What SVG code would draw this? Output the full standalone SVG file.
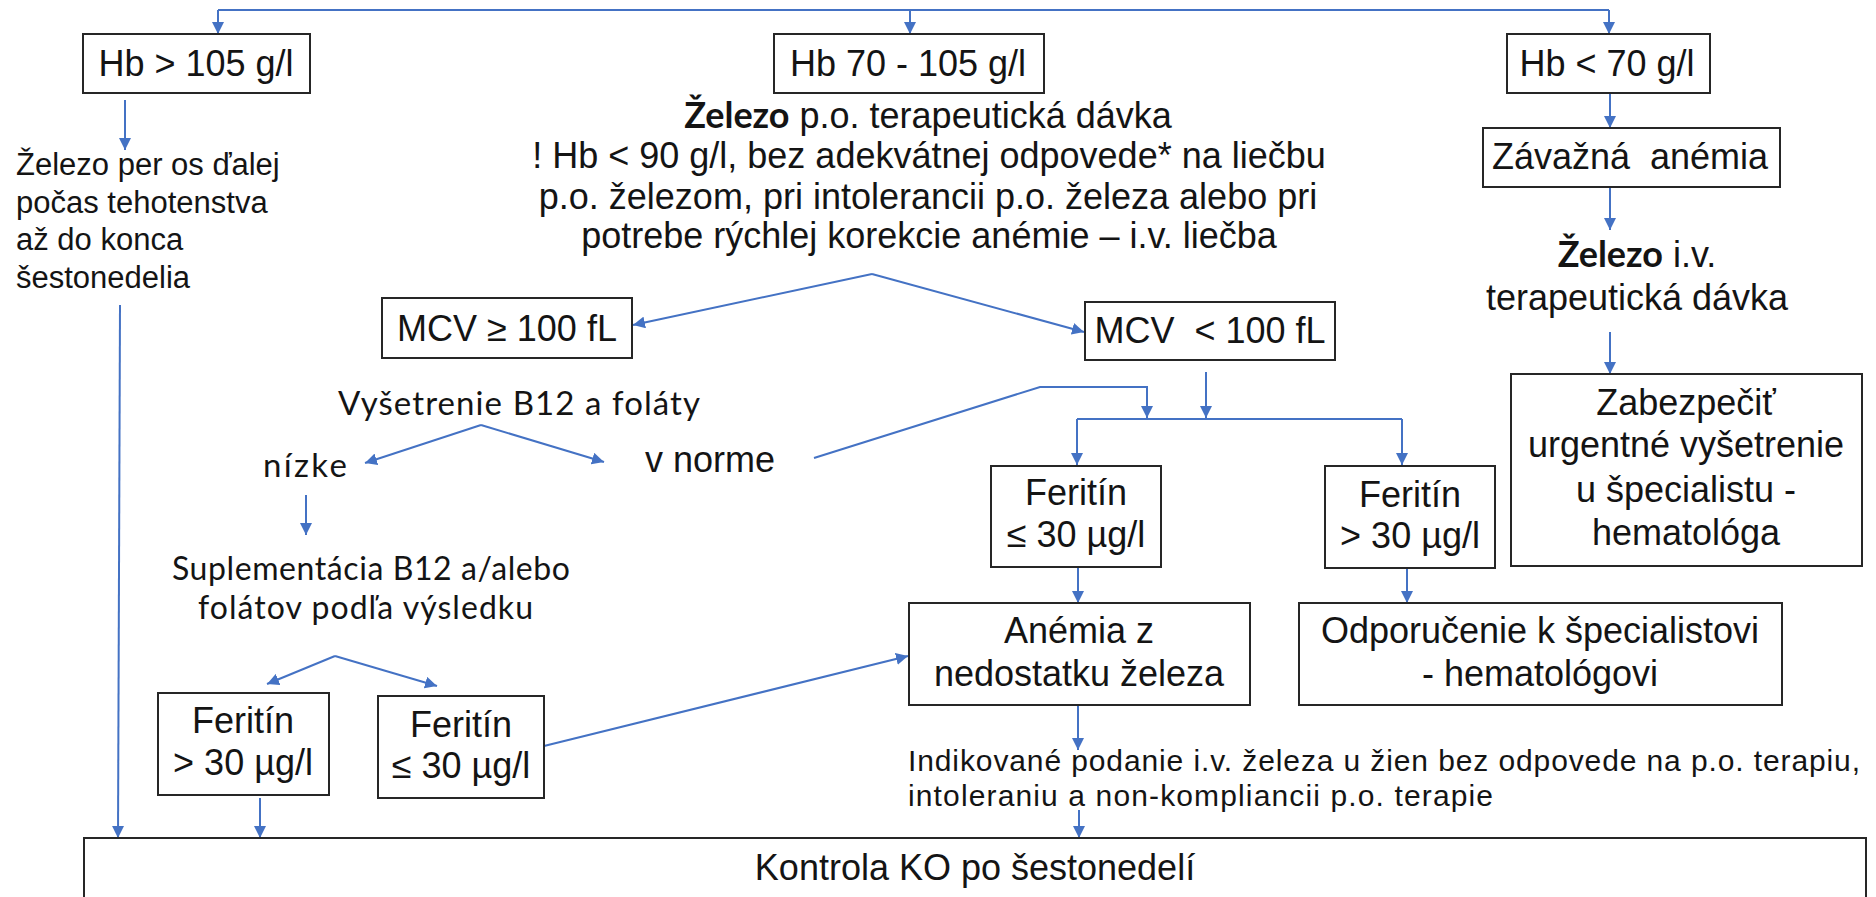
<svg xmlns="http://www.w3.org/2000/svg" width="1876" height="897" viewBox="0 0 1876 897">
<defs>
<marker id="ah" viewBox="0 0 12 12" refX="12" refY="6" markerWidth="12" markerHeight="12" markerUnits="userSpaceOnUse" orient="auto">
<path d="M0,0 L12,6 L0,12 z" fill="#4472C4"/>
</marker>
<style>
.box{fill:#fff;stroke:#262626;stroke-width:2}
.t{font-family:"Liberation Sans",Arial,sans-serif;font-size:36px;fill:#141414}
.s{font-size:31px}
.n{font-size:30px}
.m{text-anchor:middle}
.c{font-family:Lato,"Open Sans",sans-serif;font-size:33px;fill:#141414}
.c2{font-size:32px}
.b{font-family:Lato,"Liberation Sans",sans-serif;font-weight:bold}
.conn path{stroke:#4472C4;stroke-width:2;fill:none}
.conn path.a{marker-end:url(#ah)}
</style>
</defs>
<rect width="1876" height="897" fill="#fff"/>

<g id="connectors" class="conn">
<path d="M218,10 H1609"/>
<path class="a" d="M218,10 V34"/>
<path class="a" d="M910,10 V34"/>
<path class="a" d="M1609,10 V34"/>
<path class="a" d="M125,100 V150"/>
<path class="a" d="M1610,93 V128"/>
<path class="a" d="M1610,187 V230"/>
<path class="a" d="M1610,332 V374"/>
<path class="a" d="M872,274 L633,325"/>
<path class="a" d="M872,274 L1084,332"/>
<path class="a" d="M481,425 L365,463"/>
<path class="a" d="M481,425 L604,462"/>
<path class="a" d="M306,495 V535"/>
<path class="a" d="M335,656 L267,684"/>
<path class="a" d="M335,656 L437,686"/>
<path class="a" d="M544,746 L908,656"/>
<path class="a" d="M814,458 L1040,387 H1147 V418"/>
<path class="a" d="M1206,372 V418"/>
<path d="M1077,419 H1402"/>
<path class="a" d="M1077,419 V465"/>
<path class="a" d="M1402,419 V465"/>
<path class="a" d="M1078,567 V603"/>
<path class="a" d="M1407,568 V603"/>
<path class="a" d="M1078,705 V750"/>
<path class="a" d="M1079,810 V838"/>
<path class="a" d="M260,798 V838"/>
<path class="a" d="M120,305 L118,838"/>
</g>

<g id="hb-high">
<rect class="box" x="83" y="34" width="227" height="59"/>
<text class="t m" x="196" y="76">Hb &gt; 105 g/l</text>
</g>
<g id="hb-mid">
<rect class="box" x="774" y="34" width="270" height="59"/>
<text class="t m" x="908" y="76">Hb 70 - 105 g/l</text>
</g>
<g id="hb-low">
<rect class="box" x="1507" y="34" width="203" height="59"/>
<text class="t m" x="1607" y="76">Hb &lt; 70 g/l</text>
</g>

<g id="zelezo-po-left">
<text class="t s" x="16" y="175">Železo per os ďalej</text>
<text class="t s" x="16" y="213">počas tehotenstva</text>
<text class="t s" x="16" y="250">až do konca</text>
<text class="t s" x="16" y="288">šestonedelia</text>
</g>

<g id="zelezo-po-mid">
<text class="t m" x="928" y="128"><tspan class="b">Železo</tspan> p.o. terapeutická dávka</text>
<text class="t m" x="929" y="168">! Hb &lt; 90 g/l, bez adekvátnej odpovede* na liečbu</text>
<text class="t m" x="928" y="209">p.o. železom, pri intolerancii p.o. železa alebo pri</text>
<text class="t m" x="929" y="248">potrebe rýchlej korekcie anémie – i.v. liečba</text>
</g>

<g id="zavazna">
<rect class="box" x="1483" y="128" width="297" height="59"/>
<text class="t m" x="1630" y="169">Závažná&#160; anémia</text>
</g>
<g id="zelezo-iv">
<text class="t m" x="1637" y="267"><tspan class="b">Železo</tspan> i.v.</text>
<text class="t m" x="1637" y="310">terapeutická dávka</text>
</g>
<g id="zabezpecit">
<rect class="box" x="1511" y="374" width="351" height="192"/>
<text class="t m" x="1686" y="415">Zabezpečiť</text>
<text class="t m" x="1686" y="457">urgentné vyšetrenie</text>
<text class="t m" x="1686" y="502">u špecialistu -</text>
<text class="t m" x="1686" y="545">hematológa</text>
</g>

<g id="mcv-high">
<rect class="box" x="382" y="298" width="250" height="60"/>
<text class="t m" x="507" y="341">MCV ≥ 100 fL</text>
</g>
<g id="mcv-low">
<rect class="box" x="1085" y="302" width="250" height="58"/>
<text class="t m" x="1210" y="343">MCV&#160; &lt; 100 fL</text>
</g>

<g id="vysetrenie">
<text class="c" x="338" y="415" textLength="362">Vyšetrenie B12 a foláty</text>
</g>
<g id="nizke">
<text class="c" x="263" y="477" textLength="84">nízke</text>
</g>
<g id="v-norme">
<text class="t" x="645" y="472">v norme</text>
</g>
<g id="suplementacia">
<text class="c c2" x="172" y="580" textLength="398">Suplementácia B12 a/alebo</text>
<text class="c c2" x="198" y="619" textLength="335">folátov podľa výsledku</text>
</g>

<g id="feritin-high-left">
<rect class="box" x="158" y="693" width="171" height="102"/>
<text class="t m" x="243" y="733">Feritín</text>
<text class="t m" x="243" y="775">&gt; 30 µg/l</text>
</g>
<g id="feritin-low-left">
<rect class="box" x="378" y="696" width="166" height="102"/>
<text class="t m" x="461" y="737">Feritín</text>
<text class="t m" x="461" y="778">≤ 30 µg/l</text>
</g>
<g id="feritin-low-mid">
<rect class="box" x="991" y="466" width="170" height="101"/>
<text class="t m" x="1076" y="505">Feritín</text>
<text class="t m" x="1076" y="547">≤ 30 µg/l</text>
</g>
<g id="feritin-high-right">
<rect class="box" x="1325" y="466" width="170" height="102"/>
<text class="t m" x="1410" y="507">Feritín</text>
<text class="t m" x="1410" y="548">&gt; 30 µg/l</text>
</g>

<g id="anemia">
<rect class="box" x="909" y="603" width="341" height="102"/>
<text class="t m" x="1079" y="643">Anémia z</text>
<text class="t m" x="1079" y="686">nedostatku železa</text>
</g>
<g id="odporucenie">
<rect class="box" x="1299" y="603" width="483" height="102"/>
<text class="t m" x="1540" y="643">Odporučenie k špecialistovi</text>
<text class="t m" x="1540" y="686">- hematológovi</text>
</g>

<g id="indikovane">
<text class="t n" x="908" y="771" textLength="952">Indikované podanie i.v. železa u žien bez odpovede na p.o. terapiu,</text>
<text class="t n" x="908" y="806" textLength="585">intoleraniu a non-kompliancii p.o. terapie</text>
</g>

<g id="kontrola">
<rect class="box" x="84" y="838" width="1782" height="80"/>
<text class="t m" x="975" y="880">Kontrola KO po šestonedelí</text>
</g>
</svg>
